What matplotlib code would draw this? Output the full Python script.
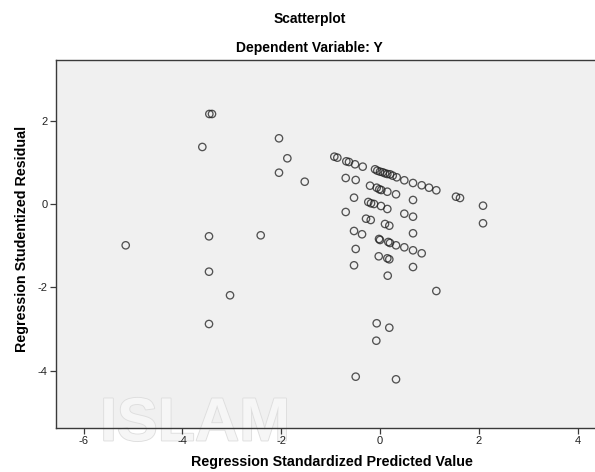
import matplotlib
matplotlib.use("Agg")
import matplotlib.pyplot as plt
import matplotlib.patheffects as pe

plt.rcParams['font.family'] = ['Liberation Sans', 'DejaVu Sans']

# Standardized predicted values and studentized residuals
pred = [
    -3.453, -3.399, -3.595, -2.043, -1.874, -2.043, -1.522, -3.460, -2.413, -5.146,
    -3.460, -3.034, -3.460, 1.142, -0.065, 0.190, -0.073, -0.490, 0.326,
    -0.923, -0.862, -0.680, -0.626, -0.504, -0.348,
    -0.099, -0.053, 0.002, 0.057, 0.103, 0.150, 0.204, 0.259, 0.340,
    0.494, 0.670, 0.846, 0.994, 1.142, 1.540, 1.621, 2.087, 2.087,
    -0.692, -0.490, -0.200, -0.065, -0.012, 0.028, 0.150, 0.326, 0.670,
    -0.524, -0.235, -0.180, -0.119, 0.022, 0.150, -0.692, 0.494, 0.670,
    -0.281, -0.186, 0.103, 0.190, 0.670, -0.524, -0.362, -0.018, 0.002,
    0.170, 0.204, 0.326, 0.494, 0.670, 0.846, -0.490, -0.024, 0.150,
    0.190, -0.524, 0.670, 0.158,
]
resid = [
    2.161, 2.161, 1.369, 1.577, 1.097, 0.751, 0.535, -0.776, -0.752, -0.992,
    -1.625, -2.192, -2.881, -2.089, -2.864, -2.970, -3.282, -4.146, -4.209,
    1.136, 1.112, 1.025, 1.008, 0.953, 0.896,
    0.833, 0.800, 0.776, 0.761, 0.737, 0.720, 0.713, 0.680, 0.641,
    0.569, 0.504, 0.449, 0.391, 0.329, 0.175, 0.144, -0.041, -0.463,
    0.624, 0.576, 0.439, 0.391, 0.353, 0.336, 0.295, 0.233, 0.096,
    0.151, 0.048, 0.017, 0.000, -0.048, -0.120, -0.192, -0.233, -0.305,
    -0.353, -0.384, -0.480, -0.521, -0.703, -0.648, -0.727, -0.840, -0.864,
    -0.912, -0.936, -0.992, -1.040, -1.112, -1.184, -1.080, -1.256, -1.304,
    -1.328, -1.472, -1.513, -1.721,
]

x_ticks = [-6, -4, -2, 0, 2, 4]
y_ticks = [2, 0, -2, -4]

fig = plt.figure(figsize=(5.95, 4.72), dpi=100)
fig.patch.set_facecolor('white')

ax = fig.add_axes([56 / 595, 1 - 428 / 472, 1 - 56 / 595, (428 - 60) / 472])
ax.set_facecolor('#f0f0f0')

ax.scatter(pred, resid, s=28, facecolors='none', edgecolors='#1e1e1e',
           linewidths=0.95, alpha=0.75, zorder=3)

ax.set_xlim(-6.557, 4.354)
ax.set_ylim(-5.378, 3.457)
ax.set_xticks(x_ticks)
ax.set_yticks(y_ticks)
ax.set_xticklabels([str(t) for t in x_ticks])
ax.set_yticklabels([str(t) for t in y_ticks])

for side in ('left', 'bottom', 'top'):
    ax.spines[side].set_color('#3a3a3a')
    ax.spines[side].set_linewidth(1.0)
ax.spines['right'].set_visible(False)

ax.tick_params(axis='both', direction='out', length=4, width=0.9,
               color='#3a3a3a', labelsize=8, labelcolor='#222222', pad=2)

ax.set_xlabel("Regression Standardized Predicted Value", fontsize=10.3,
              fontweight='bold')
ax.xaxis.set_label_coords((332 - 56) / (595 - 56), -0.074)
ax.set_ylabel("Regression Studentized Residual", fontsize=10.3,
              fontweight='bold')
ax.yaxis.set_label_coords(-0.05, (428 - 239) / (428 - 60))

fig.text(0.52, 1 - 19 / 472, "Scatterplot", ha='center', va='center',
         fontsize=10, fontweight='bold')
fig.text(0.52, 1 - 48 / 472, "Dependent Variable: Y", ha='center', va='center',
         fontsize=10, fontweight='bold')

# faint outlined lettering near the lower edge, kept beneath the axis text
wm = ax.text(100 / 595, 1 - 425 / 472, "ISLAM", fontsize=44, fontweight='bold',
             color='#f6f6f6', ha='left', va='center', zorder=1,
             transform=fig.transFigure, clip_on=False)
wm.set_path_effects([pe.Stroke(linewidth=1.3, foreground='#dedede'), pe.Normal()])

fig.savefig("out.png", dpi=100, facecolor='white')
